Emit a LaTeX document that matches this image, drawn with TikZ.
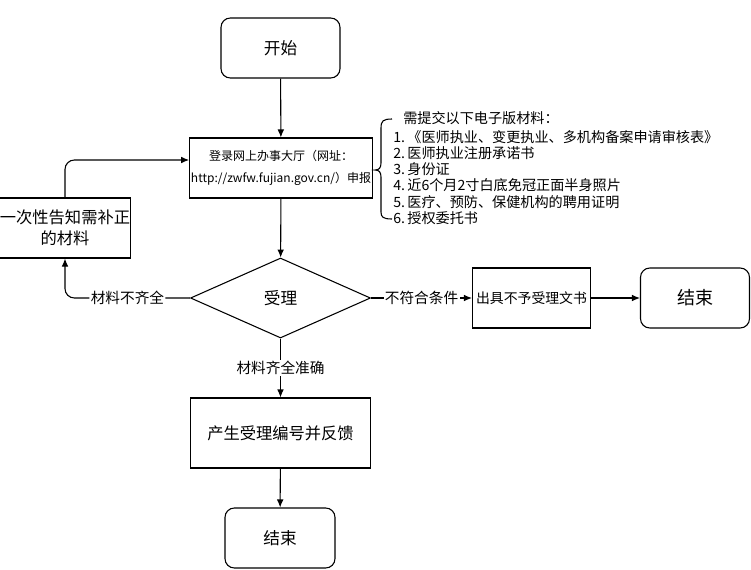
\documentclass[tikz,border=0pt]{standalone}
\usepackage{fontspec}
\setmainfont{Noto Sans CJK SC}
\usetikzlibrary{arrows.meta,shapes.geometric}

\begin{document}
\begin{tikzpicture}[x=0.75pt, y=-0.75pt, > = {Latex[length=6pt,width=5pt]},
    box/.style = {draw, line width=0.8pt, align=center, inner sep=1pt},
    terminal/.style = {box, rounded corners=7pt, minimum height=45pt, font=\fontsize{12.5}{15}\selectfont},
    check/.style = {draw, line width=0.8pt, shape=diamond, inner sep=0pt, minimum width=135pt, minimum height=60pt, font=\fontsize{12.5}{15}\selectfont},
    flow/.style = {line width=0.8pt, ->},
    lbl/.style = {fill=white, inner sep=1pt, font=\fontsize{11}{13}\selectfont},
    item/.style = {anchor=west, inner sep=0pt, font=\fontsize{10.6}{12}\selectfont}]

    \useasboundingbox (0,0) rectangle (751,569);

    % boxes
    \node[terminal, minimum width=89.25pt] (kaishi) at (280.5,48) {开始};
    \node[box, minimum width=135pt, minimum height=45pt, font=\fontsize{9}{16}\selectfont] (denglu) at (281,168) {登录网上办事大厅（网址：\\http://zwfw.fujian.gov.cn/）申报};
    \node[box, inner sep=0pt, minimum width=97.5pt, minimum height=45pt, font=\fontsize{12.2}{16}\selectfont] (buzheng) at (65,228) {一次性告知需补正\\的材料};
    \node[check] (shouli) at (280.5,298) {受理};
    \node[box, minimum width=88.5pt, minimum height=45pt, font=\fontsize{10.4}{13}\selectfont] (buyu) at (531.5,298) {出具不予受理文书};
    \node[terminal, minimum width=81.75pt, font=\fontsize{13.5}{16}\selectfont] (jieshuR) at (695,298) {结束};
    \node[box, minimum width=135pt, minimum height=52.5pt, font=\fontsize{12.2}{15}\selectfont] (fankui) at (280.5,433) {产生受理编号并反馈};
    \node[terminal, minimum width=82.5pt] (jieshuB) at (280,538) {结束};

    % arrows
    \draw[flow] (kaishi) -- (denglu);
    \draw[flow] (denglu) -- (shouli);
    \draw[flow, rounded corners=7pt] (shouli.west) -- node[lbl] {材料不齐全} (shouli.west -| buzheng.south) -- (buzheng.south);
    \draw[flow, rounded corners=7pt] (buzheng.north) |- ([yshift=6pt]denglu.west);
    \draw[flow] (shouli.east) -- node[lbl] {不符合条件} (buyu.west);
    \draw[flow] (buyu) -- (jieshuR);
    \draw[flow] (shouli.south) -- node[lbl] {材料齐全准确} (fankui.north);
    \draw[flow] (fankui) -- (jieshuB);

    % materials list
    \draw[line width=0.8pt] (392,119) .. controls (383,119) and (381,121) .. (381,128) -- (381,163)
        .. controls (381,168) and (379,170) .. (375,170) .. controls (379,170) and (381,172) .. (381,177)
        -- (381,212) .. controls (381,217) and (383,219) .. (392,219);
    \node[item] (xuyao) at (403,118) {需提交以下电子版材料：};
    \foreach \t [count=\i] in {《医师执业、变更执业、多机构备案申请审核表》, 医师执业注册承诺书, 身份证, 近6个月2寸白底免冠正面半身照片, 医疗、预防、保健机构的聘用证明, 授权委托书}
        \node[item] (cailiao\i) at (393,{137+16.2*(\i-1)}) {\i.\,\t};

\end{tikzpicture}
\end{document}
